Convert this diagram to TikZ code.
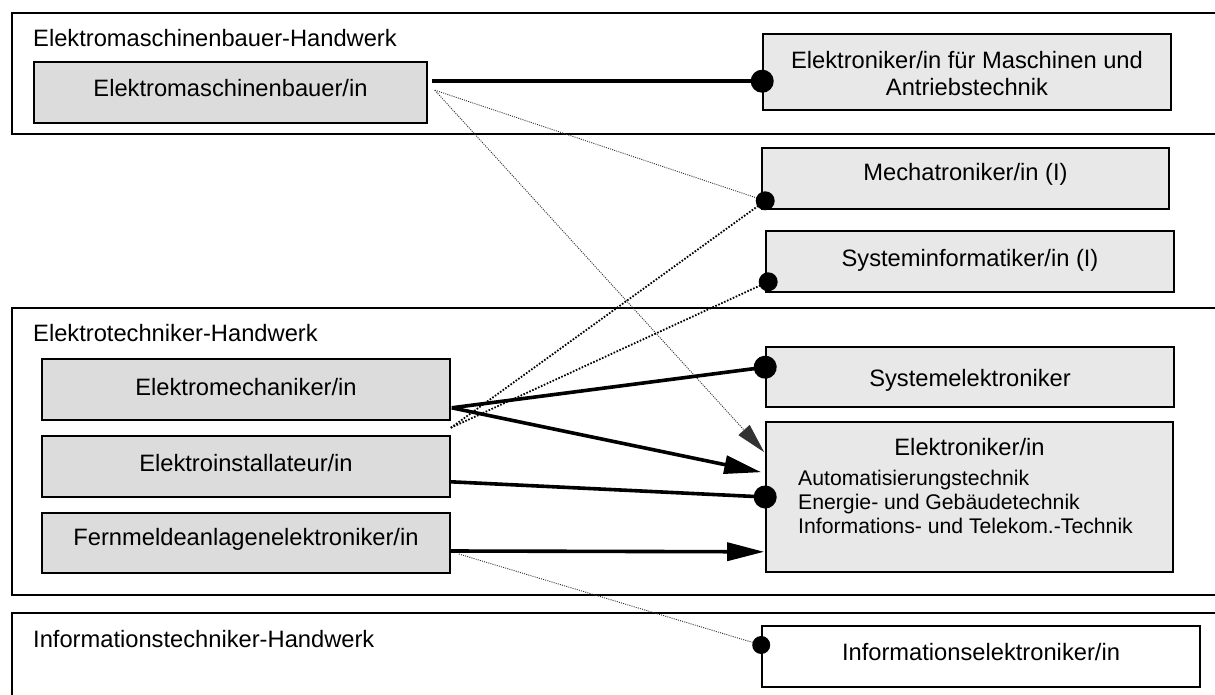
\documentclass[tikz,border=0pt]{standalone}
\usepackage{fontspec}
\setmainfont{Liberation Sans}
\usetikzlibrary{arrows.meta,calc}
\definecolor{boxdark}{HTML}{DCDCDC}
\definecolor{boxlight}{HTML}{E8E8E8}
\begin{document}
\begin{tikzpicture}[x=1pt,y=-1pt,
  group/.style={draw=black,line width=1.6pt},
  box/.style={draw=black,line width=1.6pt,rectangle,inner sep=0pt},
  lbl/.style={anchor=base,inner sep=0pt,font=\fontsize{23.7}{27}\selectfont},
  sublbl/.style={anchor=base west,inner sep=0pt,align=left,font=\fontsize{21.2}{24}\selectfont},
  thickline/.style={line width=3.6pt},
  thindot/.style={line width=0.9pt,draw=black!80,dash pattern=on 1pt off 1.2pt},
  thickdot/.style={line width=1.8pt,dash pattern=on 1.6pt off 1.6pt},
  enddot/.style={circle,fill=black,inner sep=0pt,minimum size=19pt},
  dottip/.style={-{Circle[length=#1]}},
  bigtri/.style={-{Triangle[length=37pt,width=18pt]}},
  smalltri/.style={-{Triangle[length=30pt,width=15pt]}}
]
\clip (0,0) rectangle (1215,695);
\fill[white] (0,0) rectangle (1215,695);

% group frames
\draw[group] (12,13) rectangle (1225,134);
\draw[group] (12,308) rectangle (1225,595);
\draw[group] (12,613) rectangle (1225,705);
\node[lbl,anchor=base west] (g1t) at (33,47) {Elektromaschinenbauer-Handwerk};
\node[lbl,anchor=base west] (g2t) at (33,341) {Elektrotechniker-Handwerk};
\node[lbl,anchor=base west] (g3t) at (33,647) {Informationstechniker-Handwerk};

% boxes
\node[box,fill=boxdark,minimum width=393pt,minimum height=61pt] (emb) at (230.5,92.5) {};
\node[lbl] (embt) at (230.5,97) {Elektromaschinenbauer/in};

\node[box,fill=boxlight,minimum width=408pt,minimum height=76pt] (ema) at (967,72) {};
\node[lbl,align=center] (emat) at (967,95.5) {Elektroniker/in für Maschinen und\\Antriebstechnik};

\node[box,fill=boxlight,minimum width=407pt,minimum height=61pt] (mech) at (965.5,178.5) {};
\node[lbl] (mecht) at (965.5,180.5) {Mechatroniker/in (I)};

\node[box,fill=boxlight,minimum width=408pt,minimum height=61pt] (sysinf) at (970,261.5) {};
\node[lbl] (sysinft) at (970,266.5) {Systeminformatiker/in (I)};

\node[box,fill=boxlight,minimum width=408pt,minimum height=60pt] (sysel) at (970,377) {};
\node[lbl] (syselt) at (970,386) {Systemelektroniker};

\node[box,fill=boxlight,minimum width=407pt,minimum height=150pt] (elk) at (969.5,497) {};
\node[lbl] (elkt) at (969.5,455.5) {Elektroniker/in};
\node[sublbl] (elks) at (798,533) {Automatisierungstechnik\\Energie- und Gebäudetechnik\\Informations- und Telekom.-Technik};

\node[box,fill=boxdark,minimum width=408pt,minimum height=61pt] (emech) at (246,389.5) {};
\node[lbl] (emecht) at (246,395) {Elektromechaniker/in};

\node[box,fill=boxdark,minimum width=408pt,minimum height=61pt] (einst) at (246,466.5) {};
\node[lbl] (einstt) at (246,471) {Elektroinstallateur/in};

\node[box,fill=boxdark,minimum width=408pt,minimum height=60pt] (fern) at (246,543) {};
\node[lbl] (fernt) at (246,545) {Fernmeldeanlagenelektroniker/in};

\node[box,fill=white,minimum width=438pt,minimum height=61pt] (infel) at (981,656.5) {};
\node[lbl] (infelt) at (981,660) {Informationselektroniker/in};

% start points and end dots
\coordinate (embs) at ($(emb.north east)+(7,29)$);
\coordinate (emechs) at ($(emech.south east)+(0,7)$);
\coordinate (emecht2) at ($(emech.south east)+(1,-13)$);
\coordinate (ferns) at ($(fern.east)+(8,11)$);

% connectors
\draw[thickline,dottip=23pt,shorten >=-11.5pt] ($(emb.north east)+(4,20)$) -- ($(ema.north west)+(0,48)$);
\draw[thindot] (embs) -- ($(mech.south west)+(4,-9)$);
\draw[thindot,smalltri] (embs) -- ($(elk.north west)+(-1,31)$);
\draw[thickdot] (emechs) -- ($(mech.south west)+(4,-9)$);
\draw[thickdot] (emechs) -- ($(sysinf.south west)+(3,-11)$);
\draw[thickline,dottip=23pt,shorten >=-11.5pt] (emecht2) -- ($(sysel.north west)+(0,21)$);
\draw[thickline,bigtri] (emecht2) -- ($(elk.north west)+(-4,51)$);
\draw[thickline,dottip=23pt,shorten >=-11.5pt] ($(einst.south east)+(0,-16)$) -- (elk.west);
\draw[thickline,bigtri] ($(fern.east)+(0,8)$) -- ($(elk.south west)+(-1,-21)$);
\draw[thindot] (ferns) -- ($(infel.west)+(0,-11.5)$);

\node[enddot] (dmech) at ($(mech.south west)+(4,-9)$) {};
\node[enddot] (dsysinf) at ($(sysinf.south west)+(3,-11)$) {};
\node[enddot,minimum size=18pt] (dinfel) at ($(infel.west)+(0,-11.5)$) {};
\end{tikzpicture}
\end{document}
